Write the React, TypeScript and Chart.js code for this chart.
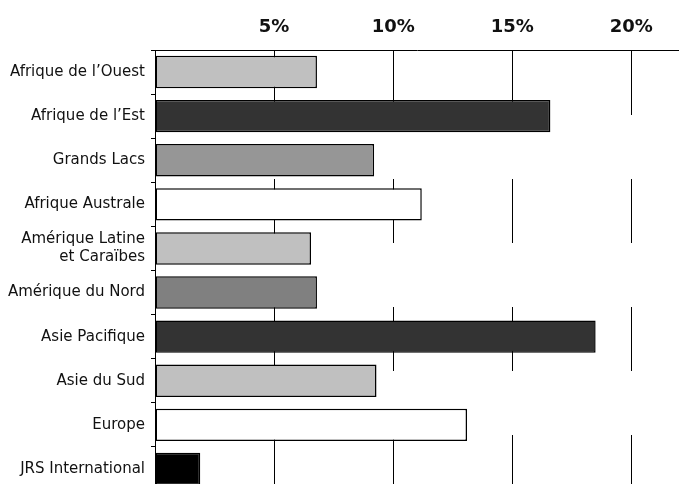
import React, { useEffect, useRef } from "react";
import { Chart, registerables } from "chart.js";

Chart.register(...registerables);

const CATEGORIES: (string | string[])[] = [
  "Afrique de l’Ouest",
  "Afrique de l’Est",
  "Grands Lacs",
  "Afrique Australe",
  ["Amérique Latine", "et Caraïbes"],
  "Amérique du Nord",
  "Asie Pacifique",
  "Asie du Sud",
  "Europe",
  "JRS International",
];
const VALUES = [6.8, 16.6, 9.2, 11.2, 6.55, 6.8, 18.5, 9.3, 13.1, 1.9];
const COLORS = [
  "#c0c0c0",
  "#333333",
  "#969696",
  "#ffffff",
  "#c0c0c0",
  "#808080",
  "#333333",
  "#c0c0c0",
  "#ffffff",
  "#000000",
];
const TICK_VALUES = [0, 5, 10, 15, 20];
const X_MAX = 22;

export default function App() {
  const canvasRef = useRef<HTMLCanvasElement | null>(null);

  useEffect(() => {
    if (!canvasRef.current) return;
    const chart = new Chart(canvasRef.current, {
      type: "bar",
      data: {
        labels: CATEGORIES as any,
        datasets: [
          {
            data: VALUES,
            backgroundColor: COLORS,
            borderColor: "#000000",
            borderWidth: 1.5,
            borderSkipped: false,
            categoryPercentage: 1,
            barPercentage: 0.735,
          },
        ],
      },
      options: {
        indexAxis: "y",
        responsive: false,
        animation: false,
        layout: { padding: 0 },
        plugins: {
          legend: { display: false },
          tooltip: { enabled: false },
        },
        scales: {
          x: {
            type: "linear",
            position: "top",
            min: 0,
            max: X_MAX,
            afterBuildTicks: (scale: any) => {
              scale.ticks = TICK_VALUES.map((v) => ({ value: v }));
            },
            afterFit: (scale: any) => {
              scale.height = 50;
            },
            grid: {
              display: true,
              drawOnChartArea: true,
              drawTicks: false,
              color: "#000000",
              lineWidth: 1,
            },
            border: {
              display: true,
              color: "#000000",
              width: 1,
              dash: [64, 64],
            },
            ticks: {
              padding: 12,
              color: "#111111",
              font: { family: "DejaVu Sans", size: 18, weight: "bold" },
              callback: (v: any) => (Number(v) === 0 ? "" : `${v}%`),
            },
          },
          y: {
            type: "category",
            afterFit: (scale: any) => {
              scale.width = 155;
              scale.paddingTop = 0;
              scale.paddingBottom = 0;
            },
            grid: {
              display: true,
              drawOnChartArea: false,
              drawTicks: true,
              tickLength: 4,
              offset: true,
              color: "#000000",
            },
            border: { display: true, color: "#000000", width: 1 },
            ticks: {
              padding: 6,
              color: "#111111",
              font: { family: "DejaVu Sans", size: 15, lineHeight: 1.2 },
            },
          },
        },
      },
    });
    return () => chart.destroy();
  }, []);

  return (
    <div
      style={{
        position: "absolute",
        left: 0,
        top: 0,
        width: 679,
        height: 484,
        overflow: "hidden",
        background: "#ffffff",
      }}
    >
      <canvas
        ref={canvasRef}
        width={679}
        height={491}
        style={{ display: "block", width: 679, height: 491 }}
      />
    </div>
  );
}
